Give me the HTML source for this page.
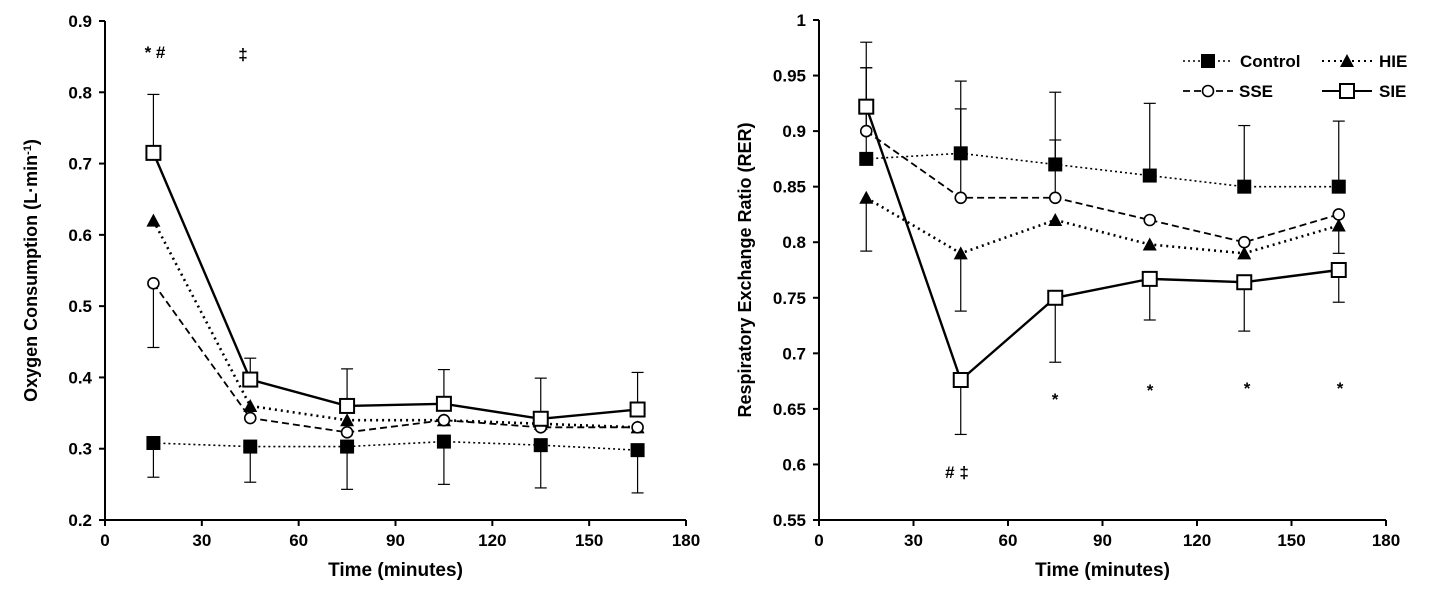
<!DOCTYPE html>
<html><head><meta charset="utf-8"><style>
html,body{margin:0;padding:0;background:#fff;}
svg{display:block;font-family:"Liberation Sans",Arial,sans-serif;font-weight:bold;}
</style></head><body>
<svg id="chart" width="1436" height="592" viewBox="0 0 1436 592" xmlns="http://www.w3.org/2000/svg"></svg>
<script>
const times=[15,45,75,105,135,165];
const xTicks=[0,30,60,90,120,150,180];
const leftYTicks=[0.2,0.3,0.4,0.5,0.6,0.7,0.8,0.9];
const leftYLabels=["0.2","0.3","0.4","0.5","0.6","0.7","0.8","0.9"];
const rightYTicks=[0.55,0.6,0.65,0.7,0.75,0.8,0.85,0.9,0.95,1];
const rightYLabels=["0.55","0.6","0.65","0.7","0.75","0.8","0.85","0.9","0.95","1"];
// Left: oxygen consumption
const vo2Control=[0.308,0.303,0.303,0.310,0.305,0.298];
const vo2ControlErr=[-0.048,-0.05,-0.06,-0.06,-0.06,-0.06];
const vo2HIE=[0.620,0.360,0.340,0.340,0.335,0.330];
const vo2HIEErr=[0,0,0,0,0,0];
const vo2SSE=[0.532,0.343,0.323,0.340,0.330,0.330];
const vo2SSEErr=[-0.09,0,0,0,0,0];
const vo2SIE=[0.715,0.397,0.360,0.363,0.342,0.355];
const vo2SIEErr=[0.082,0.03,0.052,0.048,0.057,0.052];
// Right: RER
const rerControl=[0.875,0.880,0.870,0.860,0.850,0.850];
const rerControlErr=[0.082,0.065,0.065,0.065,0.055,0.059];
const rerHIE=[0.840,0.790,0.820,0.798,0.790,0.815];
const rerHIEErr=[-0.048,-0.052,0,0,0,-0.025];
const rerSSE=[0.900,0.840,0.840,0.820,0.800,0.825];
const rerSSEErr=[0.057,0.08,0.052,0,0,0];
const rerSIE=[0.922,0.676,0.750,0.767,0.764,0.775];
const rerSIEErr=[0.058,-0.049,-0.058,-0.037,-0.044,-0.029];

const svg=document.getElementById('chart');
const NS='http://www.w3.org/2000/svg';
function mk(tag,attrs,parent){const e=document.createElementNS(NS,tag);for(const k in attrs)e.setAttribute(k,attrs[k]);(parent||svg).appendChild(e);return e;}
function txt(s,x,y,size,anchor,parent){const t=mk('text',{x:x,y:y,'font-size':size,'text-anchor':anchor||'middle'},parent);t.textContent=s;return t;}

const styles={
 control:{dash:'2,3',w:1.6},
 hie:{dash:'2,4',w:2.6},
 sse:{dash:'7,4',w:1.8},
 sie:{dash:'',w:2.4}
};
function marker(kind,x,y,g,name){
 let m;
 if(kind==='control')m=mk('rect',{x:x-7,y:y-7,width:14,height:14,fill:'#000'},g);
 else if(kind==='sie')m=mk('rect',{x:x-7,y:y-7,width:14,height:14,fill:'#fff',stroke:'#000','stroke-width':2},g);
 else if(kind==='sse')m=mk('circle',{cx:x,cy:y,r:5.5,fill:'#fff',stroke:'#000','stroke-width':1.6},g);
 else m=mk('polygon',{points:`${x},${y-7} ${x+7},${y+6} ${x-7},${y+6}`,fill:'#000'},g);
 
 
}
function panel(cfg){
 const g=mk('g',{});
 
 
 const xs=v=>cfg.x0+(v/180)*(cfg.x1-cfg.x0);
 const ys=v=>cfg.yTop+(cfg.yMax-v)/(cfg.yMax-cfg.yMin)*(cfg.yBot-cfg.yTop);
 const ax=mk('line',{x1:cfg.x0,y1:cfg.yTop,x2:cfg.x0,y2:cfg.yBot,stroke:'#000','stroke-width':2},g);
 
 const bx=mk('line',{x1:cfg.x0,y1:cfg.yBot,x2:cfg.x1,y2:cfg.yBot,stroke:'#000','stroke-width':2},g);
 
 cfg.yTicks.forEach((v,i)=>{
  const y=ys(v);
  mk('line',{x1:cfg.x0-6,y1:y,x2:cfg.x0,y2:y,stroke:'#000','stroke-width':2},g);
  const t=txt(cfg.yLabels[i],cfg.x0-13,y+6,17,'end',g);
  
 });
 xTicks.forEach(v=>{
  const x=xs(v);
  mk('line',{x1:x,y1:cfg.yBot,x2:x,y2:cfg.yBot+6,stroke:'#000','stroke-width':2},g);
  const t=txt(String(v),x,cfg.yBot+26,17,'middle',g);
  
 });
 const xt=txt('Time (minutes)',(cfg.x0+cfg.x1)/2,cfg.yBot+56,19,'middle',g);
 
 const yt=mk('text',{x:0,y:0,'font-size':18,'text-anchor':'middle',transform:`translate(${cfg.yTitleX},${(cfg.yTop+cfg.yBot)/2}) rotate(-90)`},g);
 yt.innerHTML=cfg.yTitle;
 
 cfg.series.forEach(s=>{
  const sg=mk('g',{},g);
  
  
  s.vals.forEach((v,i)=>{
   const e=s.err[i];if(!e)return;
   const x=xs(times[i]),y1=ys(v),y2=ys(v+e);
   const l=mk('line',{x1:x,y1:y1,x2:x,y2:y2,stroke:'#000','stroke-width':1.2},sg);
   
   mk('line',{x1:x-6,y1:y2,x2:x+6,y2:y2,stroke:'#000','stroke-width':1.2},sg);
  });
  const pts=s.vals.map((v,i)=>xs(times[i])+','+ys(v)).join(' ');
  const st=styles[s.kind];
  const pl=mk('polyline',{points:pts,fill:'none',stroke:'#000','stroke-width':st.w,'stroke-dasharray':st.dash},sg);
  
  s.vals.forEach((v,i)=>marker(s.kind,xs(times[i]),ys(v),sg,'point-'+s.kind));
 });
 return {xs,ys,g};
}
panel({name:'oxygen-chart',x0:105,x1:686,yTop:21,yBot:520,yMin:0.2,yMax:0.9,yTicks:leftYTicks,yLabels:leftYLabels,yTitleX:37,
 yTitle:'Oxygen Consumption (L·min<tspan baseline-shift="super" font-size="11">-1</tspan>)',
 series:[{kind:'control',vals:vo2Control,err:vo2ControlErr},{kind:'hie',vals:vo2HIE,err:vo2HIEErr},{kind:'sse',vals:vo2SSE,err:vo2SSEErr},{kind:'sie',vals:vo2SIE,err:vo2SIEErr}]});
panel({name:'rer-chart',x0:819,x1:1386,yTop:20,yBot:520,yMin:0.55,yMax:1,yTicks:rightYTicks,yLabels:rightYLabels,yTitleX:751,
 yTitle:'Respiratory Exchange Ratio (RER)',
 series:[{kind:'control',vals:rerControl,err:rerControlErr},{kind:'hie',vals:rerHIE,err:rerHIEErr},{kind:'sse',vals:rerSSE,err:rerSSEErr},{kind:'sie',vals:rerSIE,err:rerSIEErr}]});
[['* #',155,58],['‡',243,60],['*',1055,405],['*',1150,396],['*',1247,394],['*',1340,394],['# ‡',957,478]].forEach(a=>{
 const t=txt(a[0],a[1],a[2],17,'middle');
 
});
const lg=mk('g',{});


[['control','Control',1183,61,1240],['hie','HIE',1322,61,1379],['sse','SSE',1183,91,1239],['sie','SIE',1322,91,1379]].forEach(e=>{
 const eg=mk('g',{},lg);
 
 
 const st=styles[e[0]];
 mk('line',{x1:e[2],y1:e[3],x2:e[2]+50,y2:e[3],stroke:'#000','stroke-width':Math.min(st.w,2),'stroke-dasharray':st.dash},eg);
 marker(e[0],e[2]+25,e[3],eg,'legend-marker');
 txt(e[1],e[4],e[3]+6,17,'start',eg);
});
</script>
</body></html>
